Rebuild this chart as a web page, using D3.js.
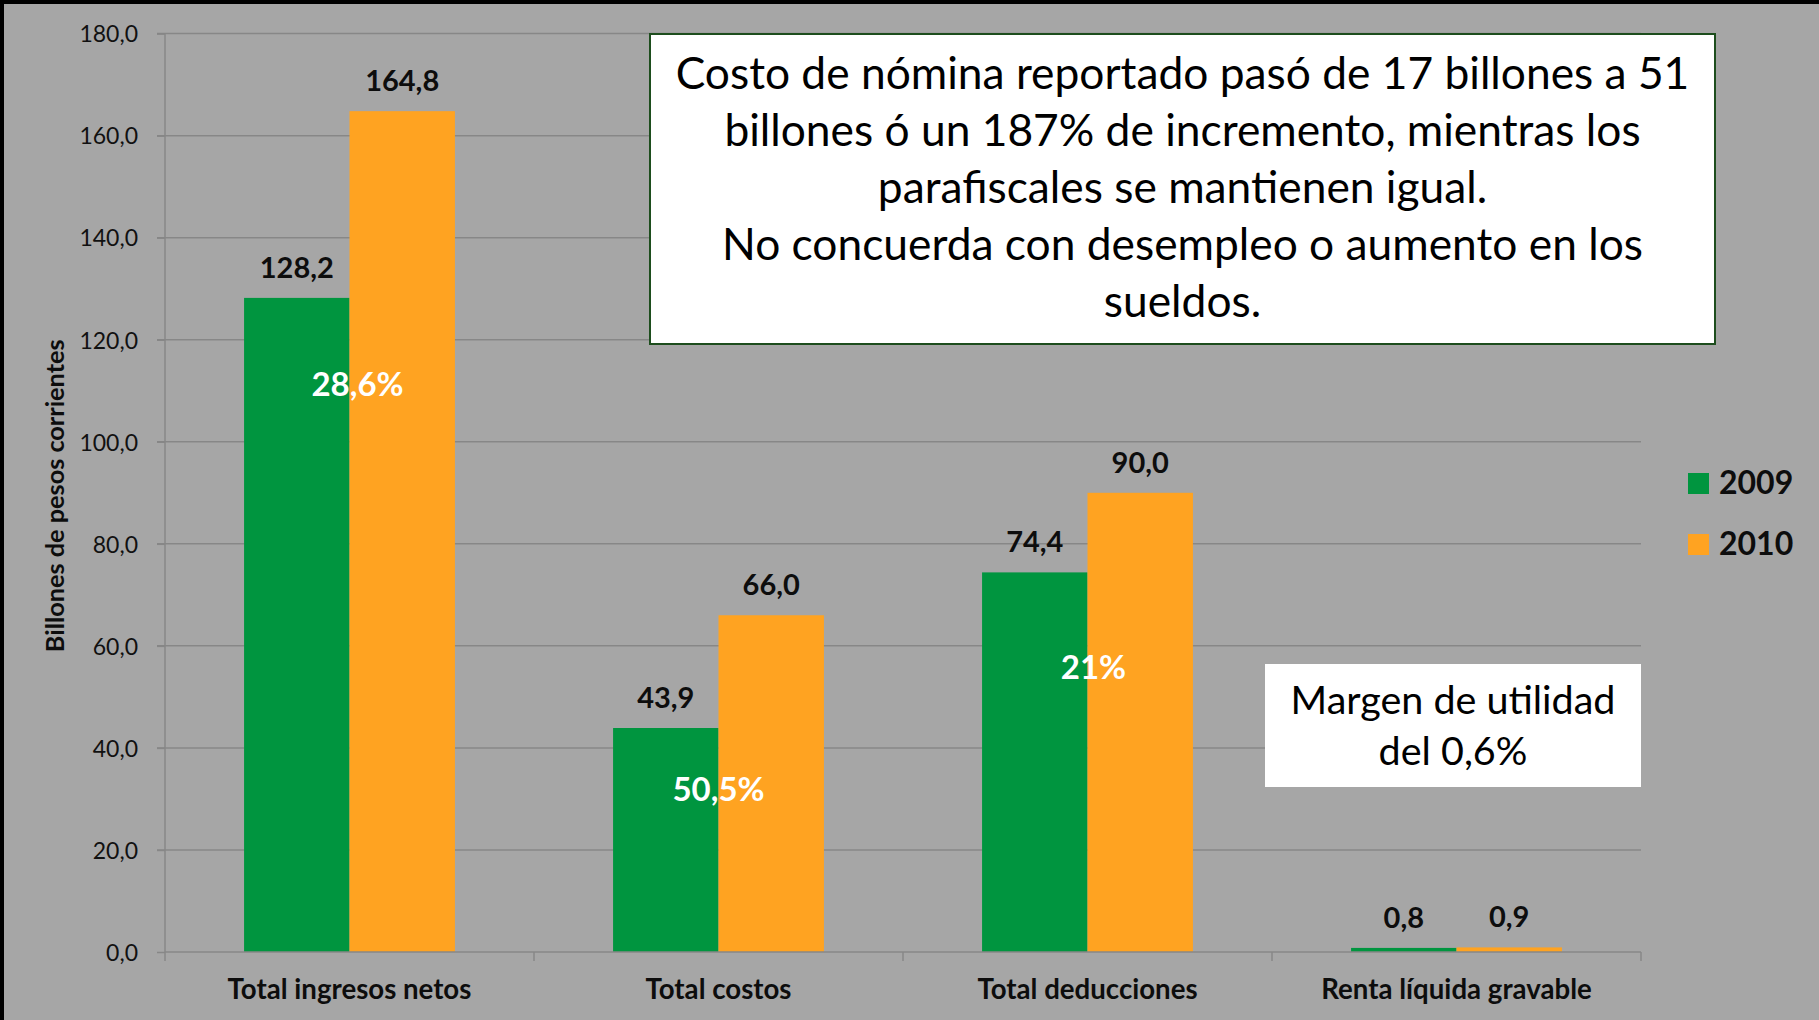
<!DOCTYPE html>
<html>
<head>
<meta charset="utf-8">
<script src="https://cdn.jsdelivr.net/npm/d3@7"></script>
<style>
  body { margin: 0; background: #000; }
  svg { display: block; font-family: Lato, "Open Sans", sans-serif; }
</style>
</head>
<body>
<svg id="chart" width="1819" height="1020"></svg>
<script>
// data
const categories = ["Total ingresos netos", "Total costos", "Total deducciones", "Renta líquida gravable"];
const series = ["2009", "2010"];
const values2009 = [128.2, 43.9, 74.4, 0.8];
const values2010 = [164.8, 66.0, 90.0, 0.9];
const growthLabels = ["28,6%", "50,5%", "21%", ""];
const growthAt = [109, 29.6, 53.5, null];      // where the growth text sits, in axis units
const growthShift = [8, 0, 6, 0];
const yTicks = [0, 20, 40, 60, 80, 100, 120, 140, 160, 180];
const noteLines = [
  "Costo de nómina reportado pasó de 17 billones a 51",
  "billones ó un 187% de incremento, mientras los",
  "parafiscales se mantienen igual.",
  "No concuerda con desempleo o aumento en los",
  "sueldos."
];
const marginLines = ["Margen de utilidad", "del 0,6%"];
const colors = {"2009": "#00953f", "2010": "#ffa321"};

const W = 1819, H = 1020;
const plot = {left: 165, right: 1641, top: 33.6, bottom: 952};
const gridColor = "#878787";

const svg = d3.select("#chart");

// gray slide with the thin black frame on top/left
svg.append("rect").attr("width", W).attr("height", H).attr("fill", "#000");
svg.append("rect").attr("x", 4).attr("y", 4).attr("width", W - 4).attr("height", H - 4).attr("fill", "#a6a6a6");

const y = d3.scaleLinear().domain([0, 180]).range([plot.bottom, plot.top]);
const x0 = d3.scaleBand().domain(categories).range([plot.left, plot.right]).padding(0);
const barW = x0.bandwidth() / 3.5;   // gap width 150%
const x1 = d3.scaleBand().domain(series).range([0, barW * 2]);
const groupOffset = (x0.bandwidth() - barW * 2) / 2;

const es = d3.formatLocale({decimal: ",", thousands: ".", grouping: [3], currency: ["$", ""]});
const fmt = es.format(".1f");

// gridlines
svg.append("g").selectAll("line").data(yTicks.slice(1)).join("line")
  .attr("x1", plot.left - 8).attr("x2", plot.right)
  .attr("y1", d => y(d)).attr("y2", d => y(d))
  .attr("stroke", gridColor).attr("stroke-width", 1.5);

// y axis
const yAxis = svg.append("g").attr("transform", `translate(${plot.left},0)`)
  .call(d3.axisLeft(y).tickValues(yTicks).tickSize(8).tickPadding(19).tickFormat(fmt));
yAxis.selectAll("line, path").attr("stroke", gridColor).attr("stroke-width", 1.5);
yAxis.select(".domain").attr("d", `M0,${plot.top}V${plot.bottom}`);
yAxis.selectAll("text").attr("font-size", 23).attr("fill", "#111")
  .attr("font-family", "Lato").attr("dy", "0.36em");

// bars
const rows = categories.map((c, i) => ({cat: c, vals: [
  {s: "2009", v: values2009[i]}, {s: "2010", v: values2010[i]}]}));

const groups = svg.append("g").selectAll("g").data(rows).join("g")
  .attr("transform", d => `translate(${x0(d.cat) + groupOffset},0)`);

groups.selectAll("rect").data(d => d.vals).join("rect")
  .attr("x", d => x1(d.s)).attr("width", x1.bandwidth())
  .attr("y", d => y(d.v)).attr("height", d => y(0) - y(d.v))
  .attr("fill", d => colors[d.s]);

groups.selectAll("text.val").data(d => d.vals).join("text")
  .attr("class", "val")
  .attr("x", d => x1(d.s) + x1.bandwidth() / 2)
  .attr("y", d => y(d.v) - 20)
  .attr("text-anchor", "middle").attr("font-weight", 700).attr("font-size", 29)
  .attr("fill", "#0d0d0d").text(d => fmt(d.v));

// x axis line and ticks
svg.append("line").attr("x1", plot.left).attr("x2", plot.right)
  .attr("y1", y(0)).attr("y2", y(0)).attr("stroke", gridColor).attr("stroke-width", 1.5);
const bounds = categories.map(c => x0(c)).concat([plot.right]);
svg.append("g").selectAll("line").data(bounds).join("line")
  .attr("x1", d => d).attr("x2", d => d).attr("y1", y(0)).attr("y2", y(0) + 9)
  .attr("stroke", gridColor).attr("stroke-width", 1.5);

// fit a text's font-size to a target width
function fit(sel, target) {
  const w = sel.node().getComputedTextLength();
  return parseFloat(sel.attr("font-size")) * target / w;
}

const catLabels = svg.append("g").selectAll("text").data(categories).join("text")
  .attr("x", d => x0(d) + x0.bandwidth() / 2).attr("y", 999)
  .attr("text-anchor", "middle").attr("font-weight", 700).attr("font-size", 24)
  .attr("fill", "#0d0d0d").text(d => d);
const catSize = fit(d3.select(catLabels.nodes()[0]), 244);
catLabels.attr("font-size", catSize);

// growth labels
svg.append("g").selectAll("text").data(growthLabels).join("text")
  .attr("x", (d, i) => x0(categories[i]) + x0.bandwidth() / 2 + growthShift[i])
  .attr("y", (d, i) => growthAt[i] == null ? 0 : y(growthAt[i]))
  .attr("text-anchor", "middle").attr("font-weight", 700).attr("font-size", 33)
  .attr("fill", "#fff").text(d => d);

// y title
const yTitle = svg.append("text")
  .attr("transform", `translate(64,${(plot.top + plot.bottom) / 2 + 3}) rotate(-90)`)
  .attr("text-anchor", "middle").attr("font-weight", 700).attr("font-size", 22)
  .attr("fill", "#0d0d0d").text("Billones de pesos corrientes");
yTitle.attr("font-size", fit(yTitle, 313));

// legend
const legend = svg.append("g").selectAll("g").data(series).join("g")
  .attr("transform", (d, i) => `translate(1688,${473 + i * 61})`);
legend.append("rect").attr("width", 21).attr("height", 21).attr("fill", d => colors[d]);
legend.append("text").attr("x", 31).attr("y", 21).attr("font-weight", 700)
  .attr("font-size", 32).attr("fill", "#0d0d0d").text(d => d);

// note box
const note = svg.append("g");
note.append("rect").attr("x", 650).attr("y", 34).attr("width", 1065).attr("height", 310)
  .attr("fill", "#fff").attr("stroke", "#1d4d1d").attr("stroke-width", 2);
const noteText = note.selectAll("text").data(noteLines).join("text")
  .attr("x", 1182.5).attr("y", (d, i) => 88.5 + i * 57.1)
  .attr("text-anchor", "middle").attr("font-size", 40).attr("fill", "#000").text(d => d);
noteText.attr("font-size", fit(d3.select(noteText.nodes()[0]), 1014));

// margin box
const mg = svg.append("g");
mg.append("rect").attr("x", 1265).attr("y", 664).attr("width", 376).attr("height", 123).attr("fill", "#fff");
const mgText = mg.selectAll("text").data(marginLines).join("text")
  .attr("x", 1453).attr("y", (d, i) => 714 + i * 51)
  .attr("text-anchor", "middle").attr("font-size", 36).attr("fill", "#000").text(d => d);
mgText.attr("font-size", fit(d3.select(mgText.nodes()[0]), 325));
</script>
</body>
</html>
